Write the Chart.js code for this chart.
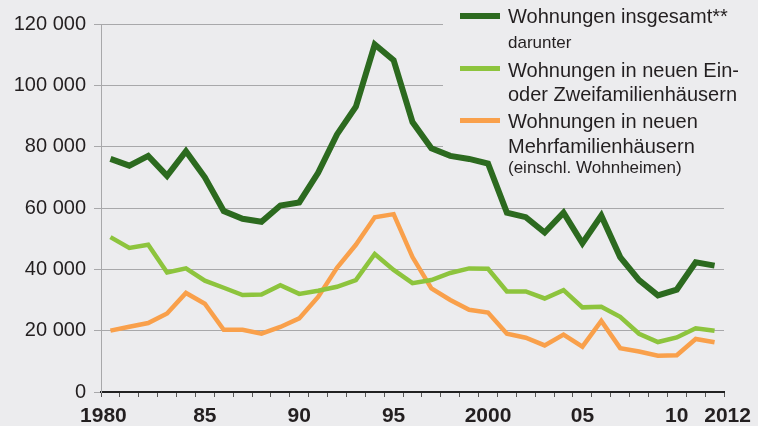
<!DOCTYPE html>
<html>
<head>
<meta charset="utf-8">
<script src="https://cdn.jsdelivr.net/npm/chart.js@4"></script>
<style>
  html, body { margin: 0; padding: 0; background: #ececee; }
  #wrap { position: relative; width: 758px; height: 426px; overflow: hidden; background: #ececee; }
  canvas { position: absolute; left: 0; top: 0; }
  .lg { position: absolute; font-family: "Liberation Sans", Arial, sans-serif; color: #231f20; white-space: nowrap; }
  .big { font-size: 20px; line-height: 20px; }
  .small { font-size: 17px; line-height: 17px; }
  .sw { position: absolute; left: 460px; width: 40px; }
</style>
</head>
<body>
<div id="wrap">
  <canvas id="c" width="758" height="426"></canvas>
  <div class="sw" style="top:13px;height:6px;background:#2c6a1f"></div>
  <div class="lg big" style="left:508px;top:6px">Wohnungen insgesamt**</div>
  <div class="lg small" style="left:508px;top:34px">darunter</div>
  <div class="sw" style="top:66px;height:5px;background:#8dc43d"></div>
  <div class="lg big" style="left:508px;top:60px">Wohnungen in neuen Ein-</div>
  <div class="lg big" style="left:508px;top:84px">oder Zweifamilienhäusern</div>
  <div class="sw" style="top:118px;height:5px;background:#f9a04b"></div>
  <div class="lg big" style="left:508px;top:111px">Wohnungen in neuen</div>
  <div class="lg big" style="left:508px;top:136px">Mehrfamilienhäusern</div>
  <div class="lg small" style="left:508px;top:159px">(einschl. Wohnheimen)</div>
</div>
<script>
const years = ['1980','1981','1982','1983','1984','1985','1986','1987','1988','1989',
               '1990','1991','1992','1993','1994','1995','1996','1997','1998','1999',
               '2000','2001','2002','2003','2004','2005','2006','2007','2008','2009',
               '2010','2011','2012'];
const wohnungenInsgesamt = [76000, 73800, 77000, 70500, 78500, 70000, 59000, 56500, 55500, 60800,
                            61800, 71500, 84000, 93000, 113300, 108200, 88000, 79500, 77000, 76000,
                            74500, 58500, 57000, 52000, 58500, 48500, 57500, 44000, 36500, 31500,
                            33400, 42300, 41200];
const einZweiFamilien = [50500, 47000, 48000, 39000, 40300, 36300, 34000, 31600, 31800, 34800,
                         32000, 33000, 34300, 36500, 45000, 39800, 35500, 36500, 38800, 40300,
                         40200, 32800, 32800, 30500, 33200, 27600, 27800, 24500, 19000, 16300,
                         17800, 20800, 20000];
const mehrFamilien = [20000, 21300, 22500, 25600, 32300, 28800, 20300, 20300, 19000, 21200,
                      24000, 31000, 40500, 48000, 57000, 58000, 44000, 33800, 30000, 26800,
                      25900, 19000, 17700, 15200, 18700, 14800, 23200, 14300, 13200, 11800,
                      12000, 17300, 16200];
const xLabelYears = ['1980','1985','1990','1995','2000','2005','2010','2012'];
const xLabelTexts = ['1980','85','90','95','2000','05','10','2012'];

const BG = '#ececee';
const FONT = '"Liberation Sans", Arial, sans-serif';

const legendBackPlugin = {
  id: 'legendBack',
  beforeDatasetsDraw(chart) {
    const ctx = chart.ctx;
    ctx.save();
    ctx.fillStyle = BG;
    ctx.fillRect(443, 0, 315, 186);
    ctx.restore();
  }
};

const xLabelPlugin = {
  id: 'xLabels',
  afterDraw(chart) {
    const ctx = chart.ctx;
    const xs = chart.scales.x;
    ctx.save();
    ctx.font = 'bold 21px ' + FONT;
    ctx.fillStyle = '#231f20';
    ctx.textAlign = 'center';
    ctx.textBaseline = 'alphabetic';
    xLabelYears.forEach((yr, i) => {
      let x = xs.getPixelForValue(years.indexOf(yr));
      if (i === 0) x -= 7;
      if (i === xLabelYears.length - 1) x += 13;
      ctx.fillText(xLabelTexts[i], x, 422);
    });
    ctx.restore();
  }
};

new Chart(document.getElementById('c'), {
  type: 'line',
  data: {
    labels: years,
    datasets: [
      { label: 'Wohnungen insgesamt**', data: wohnungenInsgesamt, borderColor: '#2c6a1f', borderWidth: 6 },
      { label: 'Wohnungen in neuen Ein- oder Zweifamilienhäusern', data: einZweiFamilien, borderColor: '#8dc43d', borderWidth: 4.5 },
      { label: 'Wohnungen in neuen Mehrfamilienhäusern (einschl. Wohnheimen)', data: mehrFamilien, borderColor: '#f9a04b', borderWidth: 4.5 }
    ]
  },
  options: {
    responsive: false,
    animation: false,
    devicePixelRatio: 1,
    layout: { padding: { top: 24, right: 34, left: 0, bottom: 0 } },
    elements: {
      point: { radius: 0, hoverRadius: 0 },
      line: { tension: 0, borderJoinStyle: 'miter', borderCapStyle: 'butt', fill: false }
    },
    plugins: { legend: { display: false }, tooltip: { enabled: false } },
    scales: {
      x: {
        offset: true,
        grid: { display: true, offset: true, drawOnChartArea: false, drawTicks: true, tickLength: 5, tickColor: '#555', tickWidth: 1 },
        border: { display: true, color: '#222', width: 2 },
        ticks: { display: false },
        afterFit(s) { s.height = 34; }
      },
      y: {
        min: 0, max: 120000,
        ticks: {
          stepSize: 20000,
          padding: 8,
          color: '#231f20',
          font: { family: FONT, size: 20 },
          callback: v => String(v).replace(/\B(?=(\d{3})+(?!\d))/g, ' ')
        },
        grid: { color: '#a8a8aa', lineWidth: 1, tickLength: 7, tickColor: '#a8a8aa' },
        border: { display: true, color: '#a8a8aa', width: 1 },
        afterFit(s) { s.width = 101; }
      }
    }
  },
  plugins: [legendBackPlugin, xLabelPlugin]
});
</script>
</body>
</html>
